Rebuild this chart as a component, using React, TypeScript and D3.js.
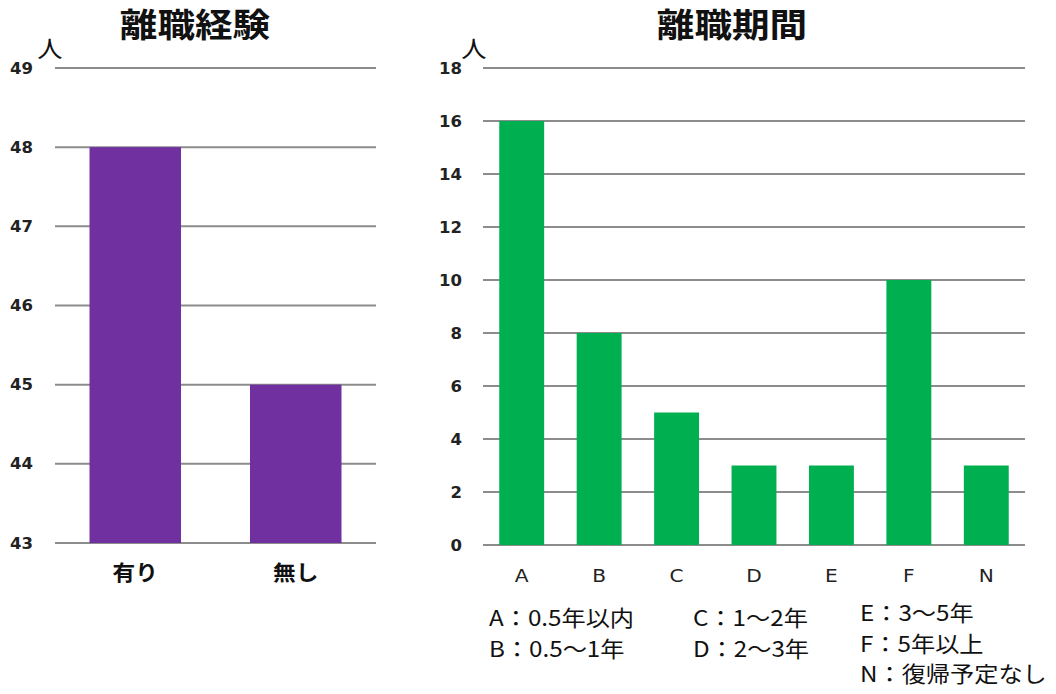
import * as d3 from 'd3'

const expCats = ['有り', '無し']
const expVals = [48, 45]
const expTicks = [43, 44, 45, 46, 47, 48, 49]

const periodCats = ['A', 'B', 'C', 'D', 'E', 'F', 'N']
const periodVals = [16, 8, 5, 3, 3, 10, 3]
const periodTicks = [0, 2, 4, 6, 8, 10, 12, 14, 16, 18]

const legendCol1 = ['A：0.5年以内', 'B：0.5〜1年']
const legendCol2 = ['C：1〜2年', 'D：2〜3年']
const legendCol3 = ['E：3〜5年', 'F：5年以上', 'N：復帰予定なし']

const jp = '"Noto Sans CJK JP", "Noto Sans", sans-serif'
const num = '"DejaVu Sans", Verdana, sans-serif'

// the source image is slightly stretched sideways, so text gets a horizontal scale
type TProps = {
  x: number
  y: number
  size: number
  family?: string
  weight?: string | number
  anchor?: 'start' | 'middle' | 'end'
  sx?: number
  fill?: string
  children: string | number
}

const T = ({ x, y, size, family = jp, weight = 'normal', anchor = 'start', sx = 1, fill = '#111', children }: TProps) => (
  <text
    transform={`translate(${x},${y}) scale(${sx},1)`}
    textAnchor={anchor}
    fontFamily={family}
    fontWeight={weight}
    fontSize={size}
    fill={fill}
  >
    {children}
  </text>
)

export default function App() {
  // left chart
  const lx = d3.scaleBand().domain(expCats).range([55, 376]).paddingInner(0.43).paddingOuter(0.215)
  const ly = d3.scaleLinear().domain([43, 49]).range([543, 68])

  // right chart
  const rx = d3.scaleBand().domain(periodCats).range([483, 1025]).paddingInner(0.42).paddingOuter(0.21)
  const ry = d3.scaleLinear().domain([0, 18]).range([545, 68])

  return (
    <svg width={1056} height={694} style={{ position: 'absolute', left: 0, top: 0, background: '#fff' }}>
      {/* 離職経験 */}
      <T x={195} y={37} size={33} weight="bold" anchor="middle" sx={1.14}>離職経験</T>
      <T x={50} y={57} size={23} anchor="middle" sx={1.1}>人</T>
      {expTicks.map((t) => (
        <g key={t}>
          <line x1={55} x2={376} y1={ly(t)} y2={ly(t)} stroke="#8c8c8c" strokeWidth={2} />
          <T x={33} y={ly(t) + 5.5} size={15} family={num} weight="bold" anchor="end" sx={1.1} fill="#222">{t}</T>
        </g>
      ))}
      {expCats.map((c, i) => (
        <g key={c}>
          <rect x={lx(c)} y={ly(expVals[i])} width={lx.bandwidth()} height={ly(43) - ly(expVals[i])} fill="#7030A0" />
          <T x={(lx(c) ?? 0) + lx.bandwidth() / 2} y={580} size={21} weight="bold" anchor="middle" sx={1.08}>{c}</T>
        </g>
      ))}

      {/* 離職期間 */}
      <T x={732} y={37} size={33} weight="bold" anchor="middle" sx={1.14}>離職期間</T>
      <T x={474} y={57} size={23} anchor="middle" sx={1.1}>人</T>
      {periodTicks.map((t) => (
        <g key={t}>
          <line x1={483} x2={1025} y1={ry(t)} y2={ry(t)} stroke="#8c8c8c" strokeWidth={2} />
          <T x={462} y={ry(t) + 5.5} size={15} family={num} weight="bold" anchor="end" sx={1.1} fill="#222">{t}</T>
        </g>
      ))}
      {periodCats.map((c, i) => (
        <g key={c}>
          <rect x={rx(c)} y={ry(periodVals[i])} width={rx.bandwidth()} height={ry(0) - ry(periodVals[i])} fill="#00B050" />
          <T x={(rx(c) ?? 0) + rx.bandwidth() / 2} y={582} size={18} family={num} weight={500} anchor="middle" sx={1.12} fill="#222">{c}</T>
        </g>
      ))}

      {legendCol1.map((s, i) => (
        <T key={s} x={489} y={626 + i * 31} size={22} sx={1.1}>{s}</T>
      ))}
      {legendCol2.map((s, i) => (
        <T key={s} x={693} y={626 + i * 31} size={22} sx={1.1}>{s}</T>
      ))}
      {legendCol3.map((s, i) => (
        <T key={s} x={860} y={621 + i * 30.5} size={22} sx={1.1}>{s}</T>
      ))}
    </svg>
  )
}
